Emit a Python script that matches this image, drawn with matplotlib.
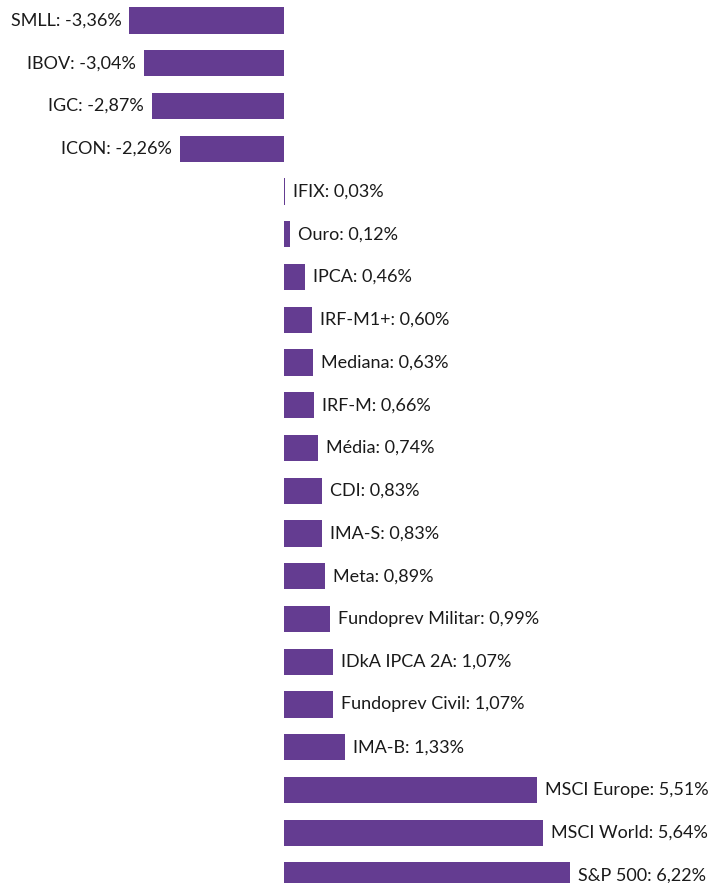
import matplotlib.pyplot as plt

# data
labels = ["SMLL", "IBOV", "IGC", "ICON", "IFIX", "Ouro", "IPCA", "IRF-M1+",
          "Mediana", "IRF-M", "Média", "CDI", "IMA-S", "Meta",
          "Fundoprev Militar", "IDkA IPCA 2A", "Fundoprev Civil", "IMA-B",
          "MSCI Europe", "MSCI World", "S&P 500"]
values = [-3.36, -3.04, -2.87, -2.26, 0.03, 0.12, 0.46, 0.60,
          0.63, 0.66, 0.74, 0.83, 0.83, 0.89,
          0.99, 1.07, 1.07, 1.33,
          5.51, 5.64, 6.22]

BAR_COLOR = '#643C91'
W, H = 711, 883
PX_PER_UNIT = 46.0
ZERO_X = 284
ROW0_Y = 20.5
ROW_STEP = 42.75

fig = plt.figure(figsize=(W / 100, H / 100), dpi=100)
ax = fig.add_axes([0, 0, 1, 1])

ypos = list(range(len(values)))
ax.barh(ypos, values, height=0.61, color=BAR_COLOR)

pad = 8 / PX_PER_UNIT
for y, lab, v in zip(ypos, labels, values):
    txt = f"{lab}: {v:.2f}%".replace('.', ',')
    if v < 0:
        ax.text(v - pad, y, txt, ha='right', va='center', fontsize=13,
                family=['Lato', 'DejaVu Sans'], color='#1a1a1a')
    else:
        ax.text(v + pad, y, txt, ha='left', va='center', fontsize=13,
                family=['Lato', 'DejaVu Sans'], color='#1a1a1a')

ax.set_xlim(-ZERO_X / PX_PER_UNIT, (W - ZERO_X) / PX_PER_UNIT)
ax.set_ylim((H - ROW0_Y) / ROW_STEP, -ROW0_Y / ROW_STEP)
ax.axis('off')

fig.savefig('out.png', dpi=100, facecolor='white')
